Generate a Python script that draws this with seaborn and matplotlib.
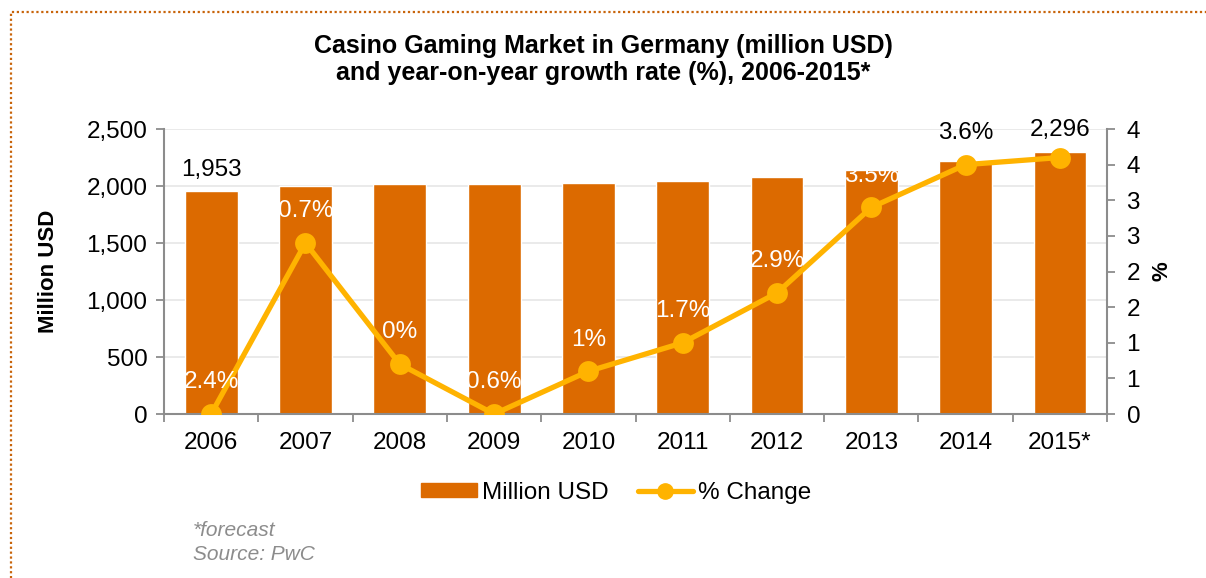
import math
import matplotlib
matplotlib.use("Agg")
import matplotlib.pyplot as plt
from matplotlib.patches import Rectangle
from matplotlib.lines import Line2D
from matplotlib.ticker import FuncFormatter, FixedLocator
import numpy as np
import pandas as pd
import seaborn as sns

years = ["2006", "2007", "2008", "2009", "2010", "2011", "2012", "2013", "2014", "2015*"]
market_musd = [1953, 2000, 2014, 2014, 2026, 2046, 2081, 2141, 2216, 2296]
growth_pct = [0.0, 2.4, 0.7, 0.0, 0.6, 1.0, 1.7, 2.9, 3.5, 3.6]
growth_labels = ["2.4%", "0.7%", "0%", "0.6%", "1%", "1.7%", "2.9%", "3.5%", "3.6%"]

BAR = "#DC6A00"
LINE = "#FFB300"
AXIS = "#8C8C8C"

sns.set_theme(style="white")
plt.rcParams["font.family"] = ["Liberation Sans", "DejaVu Sans"]
plt.rcParams["text.color"] = "black"
plt.rcParams["axes.labelcolor"] = "black"
plt.rcParams["xtick.color"] = "black"
plt.rcParams["ytick.color"] = "black"

fig = plt.figure(figsize=(12.06, 5.78), dpi=100)
ax = fig.add_axes([0.136, 0.2837, 0.782, 0.4931])

df = pd.DataFrame({"year": years, "value": market_musd})
sns.barplot(data=df, x="year", y="value", color=BAR, saturation=1, width=0.56, ax=ax)

ax.set_xlim(-0.5, 9.5)
ax.set_ylim(0, 2500)
ax.set_yticks(np.arange(0, 2501, 500))
ax.yaxis.set_major_formatter(FuncFormatter(lambda v, p: f"{int(v):,}"))
ax.grid(axis="y", color="#E6E6E6", linewidth=1.2)
ax.set_axisbelow(True)
for s in ["top", "right"]:
    ax.spines[s].set_visible(False)
for s in ["left", "bottom"]:
    ax.spines[s].set_color(AXIS)
    ax.spines[s].set_linewidth(1.5)
ax.tick_params(axis="y", which="major", length=6, width=1.3, color=AXIS, direction="out",
               labelsize=17.5, pad=6, left=True, labelcolor="black")
ax.tick_params(axis="x", which="major", length=0, labelsize=17.5, pad=13, labelcolor="black")
ax.xaxis.set_minor_locator(FixedLocator(np.arange(-0.5, 10, 1.0)))
ax.tick_params(axis="x", which="minor", length=6, width=1.3, color=AXIS, direction="out", bottom=True)
ax.set_xlabel("")
ax.set_ylabel("Million USD", fontsize=16, fontweight="bold", labelpad=20, color="black")

# value labels on the first and last bars
for i in (0, len(years) - 1):
    ax.text(i, market_musd[i] + 95, f"{market_musd[i]:,}", ha="center", va="bottom",
            fontsize=17.5, color="black")

ax2 = ax.twinx()
sns.lineplot(x=np.arange(len(years)), y=growth_pct, ax=ax2, color=LINE, linewidth=3.8,
             marker="o", markersize=15, markeredgewidth=0, markeredgecolor=LINE, zorder=5)
ax2.set_ylim(0, 4)
ax2.set_xlim(-0.5, 9.5)
ax2.set_yticks(np.arange(0, 4.01, 0.5))
ax2.yaxis.set_major_formatter(FuncFormatter(lambda v, p: f"{math.floor(v + 0.5)}"))
for s in ["top", "left", "bottom"]:
    ax2.spines[s].set_visible(False)
ax2.spines["right"].set_color(AXIS)
ax2.spines["right"].set_linewidth(1.5)
ax2.tick_params(axis="y", length=6, width=1.3, color=AXIS, direction="out", labelsize=17.5, pad=8,
                labelcolor="black")
ax2.set_ylabel("%", fontsize=16, fontweight="bold", labelpad=8, color="black")
ax2.grid(False)

# growth labels sit above each point
for i, lab in enumerate(growth_labels):
    col = "black" if i == len(growth_labels) - 1 else "white"
    ax2.text(i, growth_pct[i] + 0.29, lab, ha="center", va="bottom", fontsize=17.5, color=col, zorder=6)

fig.text(0.5, 0.897, "Casino Gaming Market in Germany (million USD)\nand year-on-year growth rate (%), 2006-2015*",
         ha="center", va="center", fontsize=18, fontweight="bold", linespacing=1.12, color="black")

handles = [Rectangle((0, 0), 1, 1, color=BAR),
           Line2D([0], [0], color=LINE, linewidth=3.8, marker="o", markersize=11)]
fig.legend(handles, ["Million USD", "% Change"], loc="center", bbox_to_anchor=(0.511, 0.147),
           ncol=2, frameon=False, fontsize=17.5, handlelength=2.3, handletextpad=0.2,
           columnspacing=1.2, handleheight=0.5, labelcolor="black")

fig.text(0.16, 0.062, "*forecast\nSource: PwC", ha="left", va="center", fontsize=15,
         style="italic", color="#8C8C8C", linespacing=1.35)

fig.patches.append(Rectangle((0.0095, -0.01), 1.0, 0.99, transform=fig.transFigure,
                             fill=False, edgecolor="#C8640A", linewidth=1.6, linestyle=(0, (1, 1.2))))

fig.savefig("out.png", dpi=100, facecolor="white")
